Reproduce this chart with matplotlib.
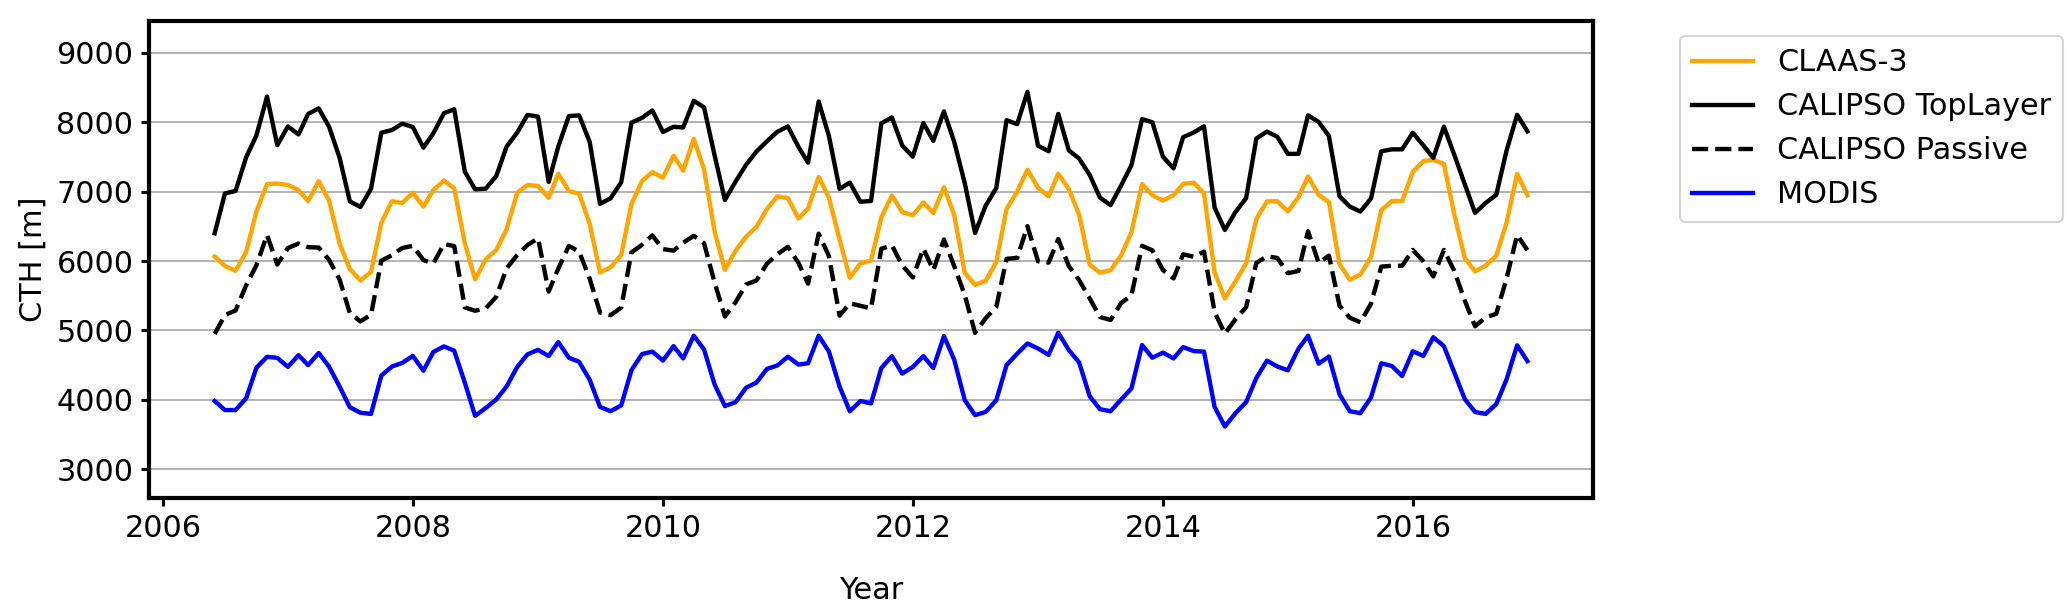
import matplotlib
matplotlib.use("Agg")
import matplotlib.pyplot as plt
import matplotlib.dates as mdates
import pandas as pd

start_month = "2006-06-01"
n_months = 127

claas3 = [6065, 5930, 5860, 6130, 6715, 7110, 7117, 7096, 7023, 6865, 7150, 6875, 6252, 5885, 5720, 5845, 6551, 6862, 6836, 6985, 6784,
          7024, 7159, 7048, 6255, 5736, 6024, 6159, 6457, 6986, 7096, 7082, 6912, 7259, 7008, 6972, 6535, 5836, 5910, 6088, 6824, 7154,
          7282, 7202, 7519, 7303, 7762, 7324, 6421, 5873, 6148, 6353, 6491, 6750, 6932, 6908, 6613, 6758, 7212, 6913, 6312, 5759, 5966,
          6007, 6628, 6945, 6707, 6660, 6844, 6693, 7064, 6667, 5831, 5656, 5715, 5987, 6750, 7000, 7316, 7056, 6932, 7259, 7038, 6668,
          5948, 5832, 5868, 6084, 6414, 7110, 6950, 6872, 6950, 7110, 7130, 6974, 5836, 5462, 5708, 5967, 6610, 6860, 6862, 6717, 6920,
          7220, 6953, 6850, 5955, 5731, 5805, 6062, 6733, 6865, 6865, 7285, 7441, 7459, 7400, 6680, 6045, 5850, 5932, 6078, 6550, 7259, 6948]

calipso_top = [6400, 6975, 7010, 7495, 7810, 8370, 7670, 7940, 7825, 8120, 8200, 7940, 7490, 6860, 6780, 7045, 7850, 7888, 7980, 7932, 7635,
               7841, 8130, 8188, 7288, 7034, 7043, 7226, 7649, 7851, 8106, 8082, 7140, 7650, 8090, 8100, 7715, 6825, 6905, 7135, 7995,
               8065, 8170, 7860, 7935, 7925, 8310, 8215, 7520, 6880, 7144, 7388, 7577, 7727, 7862, 7940, 7645, 7418, 8300, 7800, 7040,
               7130, 6855, 6865, 7985, 8070, 7667, 7504, 7990, 7732, 8157, 7719, 7120, 6405, 6798, 7052, 8031, 7973, 8438, 7662, 7582,
               8121, 7595, 7478, 7240, 6914, 6806, 7091, 7382, 8046, 8000, 7504, 7336, 7785, 7853, 7942, 6771, 6448, 6707, 6906, 7766,
               7866, 7792, 7545, 7545, 8100, 8005, 7802, 6933, 6785, 6713, 6902, 7582, 7610, 7610, 7849, 7667, 7486, 7937, 7536, 7108,
               6695, 6838, 6954, 7590, 8108, 7870]

calipso_passive = [4950, 5222, 5287, 5650, 5940, 6375, 5950, 6188, 6252, 6200, 6195, 6020, 5735, 5250, 5130, 5228, 6005, 6084, 6188, 6219, 6014,
                   5966, 6245, 6216, 5332, 5284, 5317, 5486, 5894, 6087, 6231, 6327, 5560, 5890, 6218, 6136, 5745, 5259, 5220, 5330, 6125, 6235,
                   6370, 6172, 6150, 6263, 6364, 6257, 5688, 5202, 5407, 5663, 5720, 5962, 6097, 6206, 5973, 5674, 6395, 6072, 5214, 5391, 5355,
                   5318, 6177, 6226, 5939, 5764, 6179, 5869, 6310, 5929, 5508, 4965, 5176, 5339, 6032, 6045, 6503, 5997, 5978, 6317, 5927, 5726,
                   5462, 5194, 5150, 5396, 5506, 6220, 6155, 5870, 5750, 6097, 6062, 6136, 5264, 4955, 5162, 5335, 5973, 6068, 6045, 5825, 5857,
                   6430, 5973, 6078, 5357, 5183, 5118, 5385, 5920, 5932, 5932, 6160, 5997, 5778, 6160, 5863, 5431, 5060, 5188, 5240, 5747, 6375, 6157]

modis = [3983, 3853, 3853, 4023, 4462, 4620, 4605, 4475, 4643, 4501, 4675, 4480, 4192, 3893, 3814, 3797, 4350, 4480, 4532, 4633, 4420,
         4690, 4770, 4708, 4248, 3769, 3882, 4006, 4192, 4474, 4655, 4720, 4631, 4833, 4607, 4548, 4288, 3898, 3836, 3921, 4429, 4660,
         4695, 4566, 4774, 4597, 4924, 4727, 4220, 3910, 3966, 4175, 4248, 4446, 4495, 4622, 4508, 4527, 4924, 4695, 4192, 3836, 3983,
         3949, 4457, 4630, 4378, 4474, 4630, 4460, 4918, 4580, 3994, 3780, 3825, 3994, 4501, 4664, 4812, 4740, 4648, 4967, 4717, 4540,
         4051, 3865, 3836, 4006, 4164, 4790, 4607, 4680, 4597, 4760, 4703, 4695, 3898, 3616, 3808, 3966, 4316, 4565, 4481, 4426, 4737,
         4923, 4521, 4625, 4079, 3836, 3808, 4034, 4527, 4488, 4344, 4700, 4633, 4903, 4773, 4400, 4011, 3825, 3797, 3938, 4293, 4786, 4558]

series_labels = ["CLAAS-3", "CALIPSO TopLayer", "CALIPSO Passive", "MODIS"]
y_ticks = [3000, 4000, 5000, 6000, 7000, 8000, 9000]

dates = pd.date_range(start_month, periods=n_months, freq="MS")

plt.rcParams["font.family"] = ["DejaVu Sans"]
fig = plt.figure(figsize=(2067 / 150, 615 / 150), dpi=150)
ax = fig.add_axes([0.0721, 0.1902, 0.7707 - 0.0721, 0.9659 - 0.1902])

lw = 2.1
ax.plot(dates, claas3, color="orange", lw=lw, label=series_labels[0])
ax.plot(dates, calipso_top, color="black", lw=lw, label=series_labels[1])
ax.plot(dates, calipso_passive, color="black", lw=lw, ls="--", label=series_labels[2])
ax.plot(dates, modis, color="blue", lw=lw, label=series_labels[3])

ax.set_ylim(2585, 9460)
ax.set_yticks(y_ticks)
ax.yaxis.grid(True, color="#b0b0b0", lw=0.9)
ax.set_axisbelow(True)
ax.xaxis.set_major_locator(mdates.YearLocator(2))
ax.xaxis.set_major_formatter(mdates.DateFormatter("%Y"))
ax.tick_params(labelsize=14.5, width=1.5, length=4)
for s in ax.spines.values():
    s.set_linewidth(2)

ax.set_ylabel("CTH [m]", fontsize=14.5)
ax.set_xlabel("Year", fontsize=14.5, labelpad=16)
ax.legend(loc="upper left", bbox_to_anchor=(1.05, 1), fontsize=14.5)

fig.savefig("out.png", dpi=150)
